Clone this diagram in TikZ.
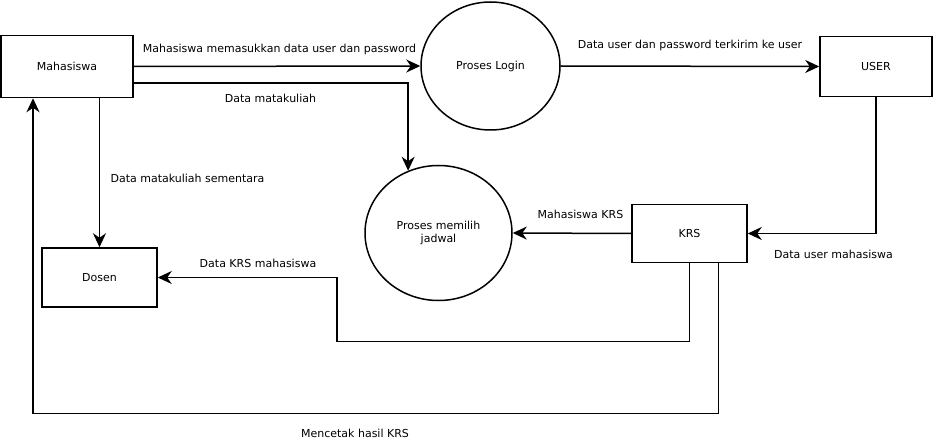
\documentclass[tikz,border=0pt]{standalone}
\usepackage{fontspec}
\setmainfont{DejaVu Sans}
\usetikzlibrary{arrows.meta,shapes.geometric}

\begin{document}
\begin{tikzpicture}[
    x=1pt, y=-1pt,
    font=\fontsize{11}{13}\selectfont,
    entity/.style={draw, line width=1.5pt, minimum width=132pt, minimum height=62pt,
      inner sep=0pt},
    proc/.style={draw, ellipse, line width=1.5pt, align=center, inner sep=0pt},
    lbl/.style={inner sep=0pt},
    arrow/.style={-{Stealth[length=14pt, width=13pt, inset=4.5pt]}, line width=1.5pt}
  ]
    \useasboundingbox (0,0) rectangle (937,441);

    \node[entity] (maha) at (67,66.5) {Mahasiswa};
    \node[proc, minimum width=139pt, minimum height=128pt] (login) at (490.5,66) {Proses Login};
    \node[entity, minimum width=112pt, minimum height=60pt] (user) at (876,66.5) {USER};
    \node[proc, minimum width=147pt, minimum height=135pt] (memilih) at (438.5,233)
      {Proses memilih\\jadwal};
    \node[entity, minimum width=115pt, minimum height=58pt] (krs) at (689.5,233.5) {KRS};
    \node[entity, minimum width=115pt, minimum height=59pt] (dosen) at (99.5,277.5) {Dosen};

    \coordinate (bend1) at (337,341.5);
    \coordinate (bend2) at (33,413.5);

    \draw[arrow] (maha.east) -- (login.west);
    \draw[arrow] (login.east) -- (user.west);
    \draw[arrow] ([yshift=-16.5pt]maha.east) -| (memilih.116);
    \draw[arrow] (dosen.north |- maha.south) -- (dosen.north);
    \draw[arrow] (user.south) |- (krs.east);
    \draw[arrow] (krs.west) -- (memilih.east);
    \draw[arrow] (krs.south) |- (bend1) |- (dosen.east);
    \draw[arrow] ([xshift=29pt]krs.south) |- (bend2) -- (bend2 |- maha.south);

    % labels
    \node[lbl] (l1) at (279.5,49) {Mahasiswa memasukkan data user dan password};
    \node[lbl] (l2) at (270.5,98) {Data matakuliah};
    \node[lbl] (l3) at (187.5,178.5) {Data matakuliah sementara};
    \node[lbl] (l4) at (690,45) {Data user dan password terkirim ke user};
    \node[lbl] (l5) at (580.5,214) {Mahasiswa KRS};
    \node[lbl] (l6) at (833.5,254.5) {Data user mahasiswa};
    \node[lbl] (l7) at (258,263) {Data KRS mahasiswa};
    \node[lbl] (l8) at (355,433.5) {Mencetak hasil KRS};
  \end{tikzpicture}
\end{document}
